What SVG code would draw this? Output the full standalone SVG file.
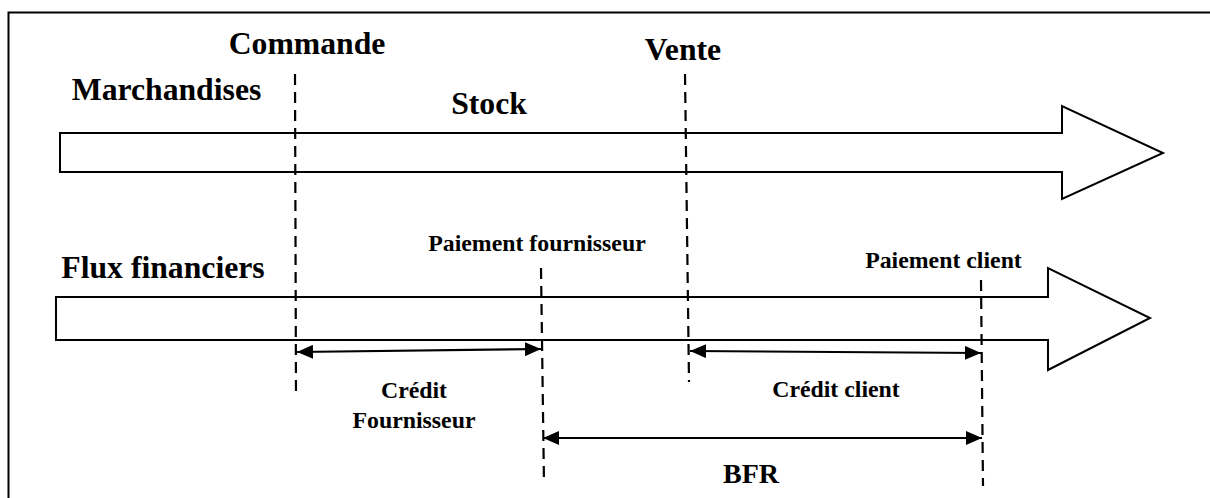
<svg xmlns="http://www.w3.org/2000/svg" width="1210" height="498" viewBox="0 0 1210 498">
  <style>
    .lbl { font-family: "Liberation Serif", "Times New Roman", serif; font-weight: bold; fill: #000; text-anchor: middle; }
    .big { font-size: 31.7px; }
    .small { font-size: 23.8px; }
    .flow { fill: #fff; stroke: #000; stroke-width: 2; stroke-linejoin: miter; }
    .dash { stroke: #000; stroke-width: 2.2; stroke-dasharray: 11 7; fill: none; }
    .span { stroke: #000; stroke-width: 2.2; fill: none; marker-start: url(#head); marker-end: url(#head); }
  </style>
  <defs>
    <marker id="head" viewBox="0 0 16 14" refX="16" refY="7" markerWidth="16" markerHeight="14" markerUnits="userSpaceOnUse" orient="auto-start-reverse">
      <path d="M0,0 L16,7 L0,14 Z" fill="#000"/>
    </marker>
  </defs>

  <rect width="1210" height="498" fill="#fff"/>
  <!-- outer frame -->
  <path d="M8.5,498 L8.5,12.5 L1210,12.5" fill="none" stroke="#000" stroke-width="2"/>

  <!-- goods flow -->
  <g id="flux-marchandises">
    <path class="flow" d="M60,133 L1062,133 L1062,106 L1163,153 L1062,199 L1062,172 L60,172 Z"/>
    <text class="lbl big" x="166.5" y="100">Marchandises</text>
    <text class="lbl big" x="489" y="114">Stock</text>
  </g>

  <!-- financial flow -->
  <g id="flux-financiers">
    <path class="flow" d="M56,297 L1048,297 L1048,268 L1150,318 L1048,370 L1048,340 L56,340 Z"/>
    <text class="lbl big" x="163" y="278">Flux financiers</text>
  </g>

  <!-- event markers -->
  <g id="commande">
    <text class="lbl big" x="307" y="54">Commande</text>
  </g>
  <g id="vente">
    <text class="lbl big" x="683" y="60">Vente</text>
  </g>
  <g id="paiement-fournisseur">
    <text class="lbl small" x="537" y="251">Paiement fournisseur</text>
  </g>
  <g id="paiement-client">
    <text class="lbl small" x="943.5" y="268">Paiement client</text>
  </g>

  <!-- durations -->
  <g id="credit-fournisseur">
    <text class="lbl small" x="414" y="398">Crédit</text>
    <text class="lbl small" x="414" y="428">Fournisseur</text>
  </g>
  <g id="credit-client">
    <text class="lbl small" x="836" y="397">Crédit client</text>
  </g>
  <g id="bfr">
    <text class="lbl" style="font-size:28px" x="751" y="483">BFR</text>
  </g>

  <g id="connectors">
    <line class="dash" x1="295" y1="74" x2="296" y2="397"/>
    <line class="dash" x1="685" y1="74" x2="689" y2="382"/>
    <line class="dash" x1="541" y1="268" x2="544" y2="484"/>
    <line class="dash" x1="981" y1="280" x2="983" y2="486"/>
    <line class="span" x1="297" y1="352" x2="541" y2="349"/>
    <line class="span" x1="690" y1="351" x2="981" y2="353"/>
    <line class="span" x1="543" y1="438" x2="982" y2="438"/>
  </g>
</svg>
